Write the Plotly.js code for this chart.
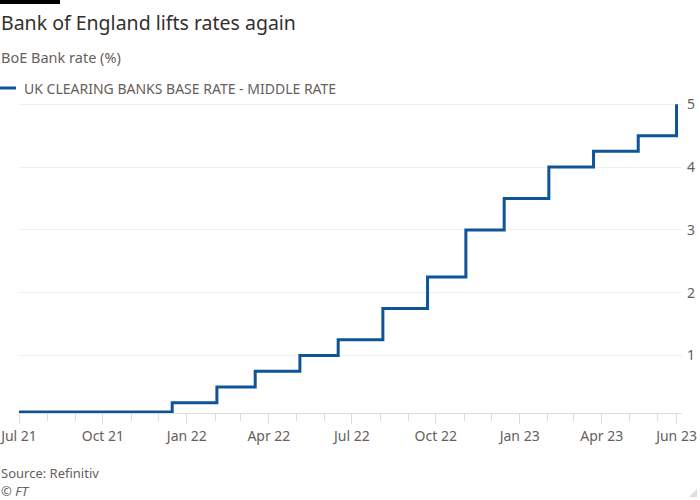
<!DOCTYPE html>
<html>
<head>
<meta charset="utf-8">
<script src="https://cdn.plot.ly/plotly-3.0.1.min.js"></script>
<style>html,body{margin:0;padding:0;background:#fff;}#chart{width:700px;height:500px;}</style>
</head>
<body>
<div id="chart"></div>
<script>
// Data: BoE Bank rate changes (date of change, new rate %)
const changeDates = ['2021-07-01','2021-12-16','2022-02-03','2022-03-17','2022-05-05','2022-06-16','2022-08-04','2022-09-22','2022-11-03','2022-12-15','2023-02-02','2023-03-23','2023-05-11','2023-06-22'];
const rates = [0.1,0.25,0.5,0.75,1,1.25,1.75,2.25,3,3.5,4,4.25,4.5,5];
const tickDates = ['2021-07-01','2021-10-01','2022-01-01','2022-04-01','2022-07-01','2022-10-01','2023-01-01','2023-04-01','2023-06-22'];
const tickLabels = ['Jul 21','Oct 21','Jan 22','Apr 22','Jul 22','Oct 22','Jan 23','Apr 23','Jun 23'];
const yTicks = [1,2,3,4,5];
const seriesName = 'UK CLEARING BANKS BASE RATE - MIDDLE RATE';

const W = 700, H = 500;
const M = {l:19, r:18, t:103, b:87};
const pw = W - M.l - M.r, ph = H - M.t - M.b;
const px = x => (x - M.l) / pw;
const py = y => (H - M.b - y) / ph;

const FONT = 'Noto Sans, sans-serif';
const grey = '#66605c';

const trace = {
  x: changeDates, y: rates, type: 'scatter', mode: 'lines',
  line: {color: '#0f5499', width: 3, shape: 'hv'},
  name: seriesName, showlegend: false, hoverinfo: 'skip'
};

const layout = {
  width: W, height: H,
  margin: M,
  paper_bgcolor: '#ffffff', plot_bgcolor: '#ffffff',
  font: {family: FONT, color: grey, size: 14},
  xaxis: {
    type: 'date',
    range: ['2021-07-01', '2023-06-28'],
    tickmode: 'array', tickvals: tickDates, ticktext: tickLabels,
    ticks: 'outside', ticklen: 10, tickcolor: '#e0dcd8', tickwidth: 1,
    ticklabeloverflow: 'allow',
    showgrid: false, zeroline: false,
    showline: true, linecolor: '#e0dcd8', linewidth: 1,
    tickfont: {family: FONT, size: 14, color: grey},
    minor: {ticks: 'outside', ticklen: 7, tickcolor: '#e0dcd8', tickwidth: 1, dtick: 'M1', tick0: '2021-07-01', showgrid: false}
  },
  yaxis: {
    side: 'right', range: [0.085, 5.02],
    tickmode: 'array', tickvals: yTicks, ticktext: yTicks.map(String),
    showgrid: true, gridcolor: '#f2eeeb', gridwidth: 1,
    zeroline: false, showline: false, ticks: '', ticklabelstandoff: 4,
    tickfont: {family: FONT, size: 14, color: grey}
  },
  shapes: [
    {type: 'rect', xref: 'paper', yref: 'paper', x0: px(0), x1: px(60), y0: py(0), y1: py(4), fillcolor: '#000', line: {width: 0}},
    {type: 'line', xref: 'paper', yref: 'paper', x0: px(0), x1: px(16), y0: py(88), y1: py(88), line: {color: '#0f5499', width: 3}},
    {type: 'path', xref: 'paper', yref: 'paper', path: `M ${px(697)} ${py(489)} L ${px(697)} ${py(497)} L ${px(689)} ${py(497)} Z`, fillcolor: '#e6dcd2', line: {width: 0}}
  ],
  annotations: [
    {text: 'Bank of England lifts rates again', xref: 'paper', yref: 'paper', x: px(-1), y: py(22), xanchor: 'left', yanchor: 'middle', showarrow: false, font: {family: FONT, size: 19.5, color: '#33302e'}},
    {text: 'BoE Bank rate (%)', xref: 'paper', yref: 'paper', x: px(-1), y: py(57), xanchor: 'left', yanchor: 'middle', showarrow: false, font: {family: FONT, size: 14.5, color: grey}},
    {text: seriesName, xref: 'paper', yref: 'paper', x: px(22), y: py(88), xanchor: 'left', yanchor: 'middle', showarrow: false, font: {family: FONT, size: 14, color: grey}},
    {text: 'Source: Refinitiv', xref: 'paper', yref: 'paper', x: px(-1), y: py(473), xanchor: 'left', yanchor: 'middle', showarrow: false, font: {family: FONT, size: 13, color: grey}},
    {text: '<i>© FT</i>', xref: 'paper', yref: 'paper', x: px(-1), y: py(491), xanchor: 'left', yanchor: 'middle', showarrow: false, font: {family: FONT, size: 13, color: grey}}
  ]
};

Plotly.newPlot('chart', [trace], layout, {staticPlot: true, displayModeBar: false});
</script>
</body>
</html>
